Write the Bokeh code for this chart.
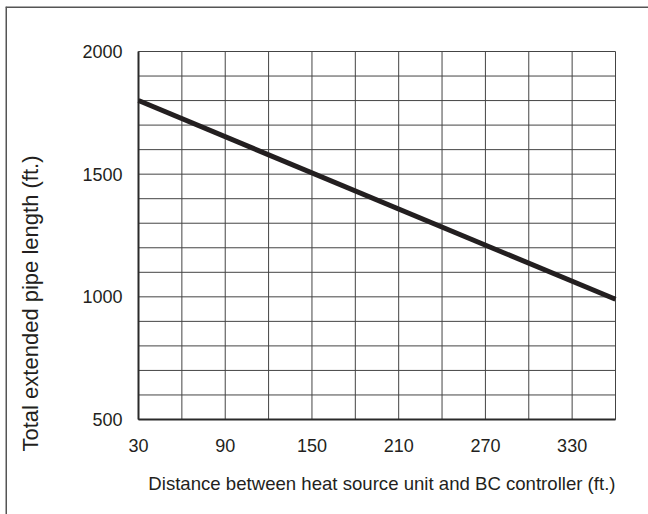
import math
from bokeh.plotting import figure
from bokeh.models import Range1d, Span
from bokeh.core.properties import value
from bokeh.embed import file_html
from bokeh.resources import INLINE

# ---------------- Data ----------------
distance_ft = [30, 360]
total_length_ft = [1800, 990]
x_ticks = [30, 90, 150, 210, 270, 330]
x_grid = [30, 60, 90, 120, 150, 180, 210, 240, 270, 300, 330, 360]
y_ticks = [500, 1000, 1500, 2000]
y_grid = [500, 600, 700, 800, 900, 1000, 1100, 1200, 1300, 1400, 1500,
          1600, 1700, 1800, 1900, 2000]
x_label = "Distance between heat source unit and BC controller (ft.)"
y_label = "Total extended pipe length (ft.)"

# ---------------- Layout (canvas pixels) ----------------
W, H = 648, 514
FRAME_L, FRAME_T = 5, 6                       # outer box top-left corner
PX_L, PX_R, PX_T, PX_B = 138, 615, 51, 419    # plot-area edges

xmin, xmax = x_grid[0], x_grid[-1]
ymin, ymax = y_grid[0], y_grid[-1]
kx = (PX_R - PX_L) / (xmax - xmin)
ky = (PX_B - PX_T) / (ymax - ymin)
x_start = xmin - (PX_L - FRAME_L) / kx
x_end = xmax + (W - PX_R) / kx
y_end = ymax + (PX_T - FRAME_T) / ky
y_start = ymin - (H - PX_B) / ky

FONT = value("Liberation Sans")
TXT = "#231f20"
GRID = "#444444"

p = figure(width=W, height=H, output_backend="svg", toolbar_location=None,
           x_range=Range1d(x_start, x_end), y_range=Range1d(y_start, y_end),
           x_axis_type=None, y_axis_type=None,
           min_border_left=FRAME_L, min_border_top=FRAME_T,
           min_border_right=0, min_border_bottom=0)
p.outline_line_color = None
p.background_fill_color = "white"
p.border_fill_color = "white"

# outer box border (top and left edges visible)
p.add_layout(Span(location=x_start, dimension="height",
                  line_color="#555555", line_width=3))
p.add_layout(Span(location=y_end, dimension="width",
                  line_color="#555555", line_width=3))

# grid
nx, ny = len(x_grid), len(y_grid)
p.segment(x0=x_grid, y0=[ymin] * nx, x1=x_grid, y1=[ymax] * nx,
          line_color=GRID, line_width=1)
p.segment(x0=[xmin] * ny, y0=y_grid, x1=[xmax] * ny, y1=y_grid,
          line_color=GRID, line_width=1)
# axis lines (left and bottom, heavier)
p.segment(x0=[xmin, xmin], y0=[ymin, ymin], x1=[xmin, xmax], y1=[ymax, ymin],
          line_color="#2a2a2a", line_width=2)

# data line
p.line(distance_ft, total_length_ft, line_color="#231f20", line_width=5)

# x tick labels
p.text(x=x_ticks, y=[ymin] * len(x_ticks), text=[str(v) for v in x_ticks],
       text_align="center", text_baseline="middle", y_offset=26,
       text_font=FONT, text_font_size="18px", text_color=TXT)
# y tick labels
p.text(x=[xmin] * len(y_ticks), y=y_ticks, text=[str(v) for v in y_ticks],
       text_align="right", text_baseline="middle", x_offset=-16,
       text_font=FONT, text_font_size="18px", text_color=TXT)

# x axis title (right-aligned with the plot area)
p.text(x=[xmax], y=[ymin], text=[x_label], text_align="right",
       text_baseline="middle", y_offset=64,
       text_font=FONT, text_font_size="18.6px", text_color=TXT)
# y axis title (vertical)
p.text(x=[xmin], y=[ymin], text=[y_label], text_align="center",
       text_baseline="middle", angle=math.pi / 2,
       x_offset=-108, y_offset=-116,
       text_font=FONT, text_font_size="22px", text_color=TXT)

open("out.html", "w").write(file_html(p, INLINE))
